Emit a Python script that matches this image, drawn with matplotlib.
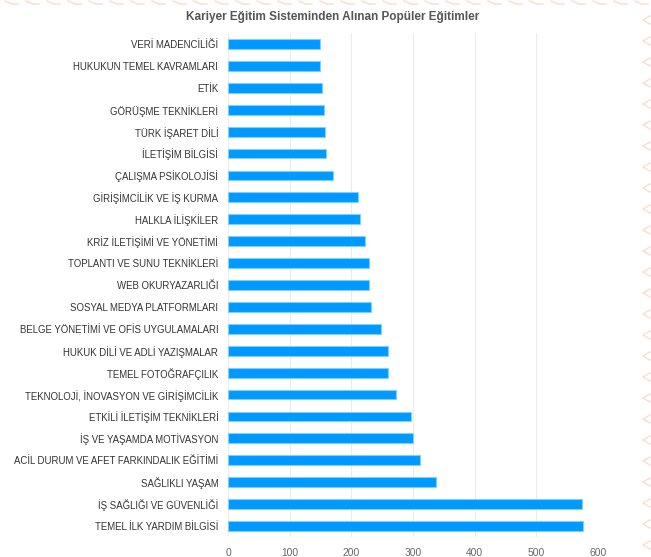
import matplotlib
matplotlib.use("Agg")
import matplotlib.pyplot as plt
from matplotlib.lines import Line2D

categories = [
    "VERİ MADENCİLİĞİ",
    "HUKUKUN TEMEL KAVRAMLARI",
    "ETİK",
    "GÖRÜŞME TEKNİKLERİ",
    "TÜRK İŞARET DİLİ",
    "İLETİŞİM BİLGİSİ",
    "ÇALIŞMA PSİKOLOJİSİ",
    "GİRİŞİMCİLİK VE İŞ KURMA",
    "HALKLA İLİŞKİLER",
    "KRİZ İLETİŞİMİ VE YÖNETİMİ",
    "TOPLANTI VE SUNU TEKNİKLERİ",
    "WEB OKURYAZARLIĞI",
    "SOSYAL MEDYA PLATFORMLARI",
    "BELGE YÖNETİMİ VE OFİS UYGULAMALARI",
    "HUKUK DİLİ VE ADLİ YAZIŞMALAR",
    "TEMEL FOTOĞRAFÇILIK",
    "TEKNOLOJİ, İNOVASYON VE GİRİŞİMCİLİK",
    "ETKİLİ İLETİŞİM TEKNİKLERİ",
    "İŞ VE YAŞAMDA MOTİVASYON",
    "ACİL DURUM VE AFET FARKINDALIK EĞİTİMİ",
    "SAĞLIKLI YAŞAM",
    "İŞ SAĞLIĞI VE GÜVENLİĞİ",
    "TEMEL İLK YARDIM BİLGİSİ",
]
values = [149, 149, 152, 155, 158, 159, 170, 210, 214, 222, 228, 229, 232,
          248, 259, 260, 272, 297, 300, 311, 337, 574, 576]
xticks = [0, 100, 200, 300, 400, 500, 600]
title = "Kariyer Eğitim Sisteminden Alınan Popüler Eğitimler"

plt.rcParams['font.family'] = ['Liberation Sans', 'DejaVu Sans']

W, H = 651, 557
fig = plt.figure(figsize=(W / 100, H / 100), dpi=100)
fig.patch.set_facecolor("white")

ax = fig.add_axes([228 / W, 1 - 537 / H, (598 - 228) / W, (537 - 33) / H])
ypos = list(range(len(categories)))
ax.barh(ypos, values, height=0.45, color="#0099ff", edgecolor="#7fd0ff",
        linewidth=0.8, zorder=3)
ax.set_yticks(ypos)
ax.set_yticklabels(categories, fontsize=6.9, color="#333333")
ax.set_ylim(len(categories) - 0.5, -0.5)
ax.set_xlim(0, 600)
ax.set_xticks(xticks)
ax.set_xticklabels([str(t) for t in xticks], fontsize=7.4, color="#666666")
ax.tick_params(axis="both", length=0)
ax.tick_params(axis="y", pad=7)
ax.tick_params(axis="x", pad=8)
for s in ax.spines.values():
    s.set_visible(False)
ax.grid(axis="x", color="#ececec", linewidth=0.8, zorder=0)
ax.set_axisbelow(True)

fig.text(0.5 + 7 / W, 1 - 17 / H, title, ha="center", va="center",
         fontsize=8.5, fontweight="bold", color="#555555")

# decorative pattern along the top and right edges
deco = "#fbe0d0"
for x in range(5, W - 10, 21):
    fig.add_artist(Line2D([x / W, (x + 7) / W], [1 - 1 / H, 1 - 4 / H],
                          color=deco, lw=1.1, transform=fig.transFigure))
    fig.add_artist(Line2D([(x + 7) / W, (x + 13) / W], [1 - 4 / H, 1 - 4 / H],
                          color=deco, lw=1.1, transform=fig.transFigure))
for y in range(20, H, 21):
    fig.add_artist(Line2D([650 / W, 643 / W, 650 / W],
                          [1 - (y - 4) / H, 1 - y / H, 1 - (y + 4) / H],
                          color=deco, lw=1.1, transform=fig.transFigure))

fig.savefig("out.png", dpi=100, facecolor="white")
